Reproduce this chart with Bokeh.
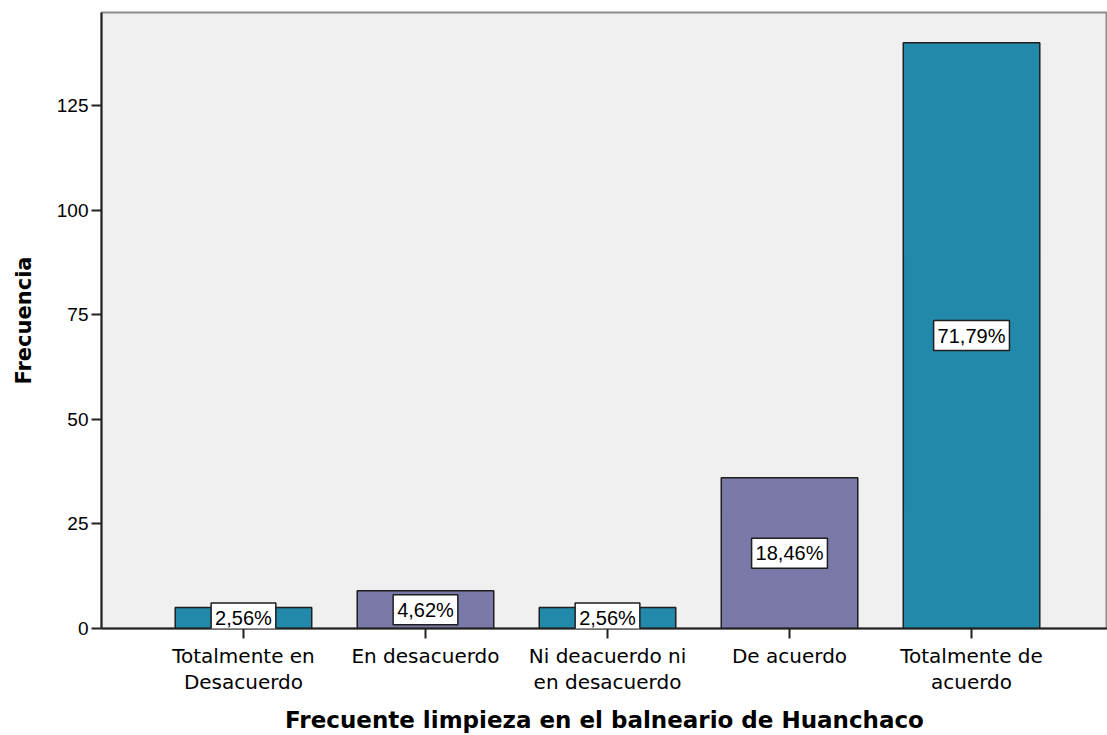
from bokeh.plotting import figure
from bokeh.models import Range1d, FixedTicker, Label, ColumnDataSource
from bokeh.embed import file_html
from bokeh.resources import INLINE

categories = ["Totalmente en\nDesacuerdo", "En desacuerdo", "Ni deacuerdo ni\nen desacuerdo",
              "De acuerdo", "Totalmente de\nacuerdo"]
frecuencia = [5, 9, 5, 36, 140]
porcentajes = ["2,56%", "4,62%", "2,56%", "18,46%", "71,79%"]
colores = ["#2389AA", "#7A79AA", "#2389AA", "#7A79AA", "#2389AA"]
y_ticks = [0, 25, 50, 75, 100, 125]

xs = list(range(1, len(categories) + 1))
src = ColumnDataSource(dict(x=xs, top=frecuencia, color=colores))

p = figure(width=1107, height=735, output_backend="svg", toolbar_location=None,
           x_range=Range1d(0.22, 5.747), y_range=Range1d(0, 147.2),
           min_border_left=101, min_border_right=0, min_border_top=12, min_border_bottom=107)

p.background_fill_color = "#F0F0F0"
p.border_fill_color = "white"
p.outline_line_color = "#8C8C8C"
p.outline_line_width = 2
p.grid.visible = False

p.vbar(x="x", top="top", bottom=0, width=0.75, source=src, fill_color="color",
       line_color="#1E1E1E", line_width=1.5)

for xi, yi, txt in zip(xs, frecuencia, porcentajes):
    p.add_layout(Label(x=xi, y=yi / 2, text=txt, text_align="center", text_baseline="middle",
                       text_font="Liberation Sans", text_font_size="20px", text_color="black",
                       text_line_height=1.0,
                       background_fill_color="white", border_line_color="#1E1E1E",
                       border_line_width=1.5, padding=4))

# x axis
p.xaxis.ticker = FixedTicker(ticks=xs)
p.xaxis.major_label_overrides = {x: c for x, c in zip(xs, categories)}
p.xaxis.major_label_text_font = "DejaVu Sans"
p.xaxis.major_label_text_font_size = "20px"
p.xaxis.major_label_text_color = "black"
p.xaxis.major_label_text_line_height = 1.1
p.xaxis.major_label_standoff = 5
p.xaxis.axis_label = "Frecuente limpieza en el balneario de Huanchaco"
p.xaxis.axis_label_text_font = "DejaVu Sans"
p.xaxis.axis_label_text_font_style = "bold"
p.xaxis.axis_label_text_font_size = "23px"
p.xaxis.axis_label_text_color = "black"
p.xaxis.axis_label_standoff = 10

# y axis
p.yaxis.ticker = FixedTicker(ticks=y_ticks)
p.yaxis.major_label_text_font = "Liberation Sans"
p.yaxis.major_label_text_font_size = "19px"
p.yaxis.major_label_text_color = "black"
p.yaxis.major_label_standoff = 3
p.yaxis.axis_label = "Frecuencia"
p.yaxis.axis_label_text_font = "DejaVu Sans"
p.yaxis.axis_label_text_font_style = "bold"
p.yaxis.axis_label_text_font_size = "21px"
p.yaxis.axis_label_text_color = "black"
p.yaxis.axis_label_standoff = 18

for ax in (p.xaxis, p.yaxis):
    ax.axis_line_color = "#222222"
    ax.axis_line_width = 2
    ax.major_tick_line_color = "#222222"
    ax.major_tick_line_width = 2
    ax.major_tick_out = 10
    ax.major_tick_in = 0
    ax.minor_tick_line_color = None

open("out.html", "w").write(file_html(p, INLINE))
